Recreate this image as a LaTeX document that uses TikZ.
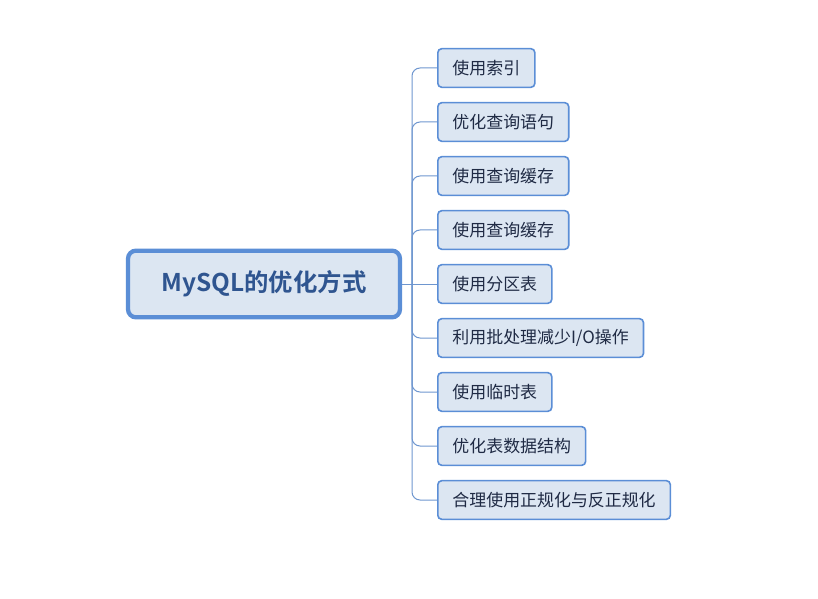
\documentclass[tikz,border=0pt]{standalone}
\usepackage{fontspec}
\setmainfont{Noto Sans CJK SC}[BoldFont={Noto Sans CJK SC Bold}]
\definecolor{boxline}{HTML}{5B8ED6}
\definecolor{boxfill}{HTML}{DCE6F2}
\definecolor{rootink}{HTML}{2F5590}
\definecolor{leafink}{HTML}{1F2A44}
\definecolor{wire}{HTML}{6E96CF}
\tikzset{
  root/.style={draw=boxline, fill=boxfill, line width=3.2pt, rounded corners=6pt,
    minimum width=204pt, minimum height=50pt, text=rootink,
    font=\fontsize{18.3}{22}\selectfont\bfseries},
  leaf/.style={draw=boxline, fill=boxfill, line width=1.2pt, rounded corners=3pt,
    anchor=west, minimum height=29pt, inner xsep=11pt, text=leafink,
    font=\fontsize{12.7}{15}\selectfont},
  wire/.style={draw=wire, line width=0.75pt, rounded corners=6pt}
}
\begin{document}
\begin{tikzpicture}[x=0.75pt, y=-0.75pt]
\useasboundingbox (0,0) rectangle (818,599);
\node[root] (m) at (264,284) {MySQL的优化方式};
\node[leaf] (a) at (437,68) {使用索引};
\node[leaf] (b) at (437,122) {优化查询语句};
\node[leaf] (c) at (437,176) {使用查询缓存};
\node[leaf] (d) at (437,230) {使用查询缓存};
\node[leaf] (e) at (437,284) {使用分区表};
\node[leaf] (f) at (437,338) {利用批处理减少I/O操作};
\node[leaf] (g) at (437,392) {使用临时表};
\node[leaf] (h) at (437,446) {优化表数据结构};
\node[leaf] (i) at (437,500) {合理使用正规化与反正规化};
\coordinate (t) at (412,284);
\draw[wire] (m.east) -- (e.west);
\draw[wire] (t) |- (a.west); \draw[wire] (t) |- (b.west);
\draw[wire] (t) |- (c.west); \draw[wire] (t) |- (d.west);
\draw[wire] (t) |- (f.west); \draw[wire] (t) |- (g.west);
\draw[wire] (t) |- (h.west); \draw[wire] (t) |- (i.west);
\end{tikzpicture}
\end{document}
